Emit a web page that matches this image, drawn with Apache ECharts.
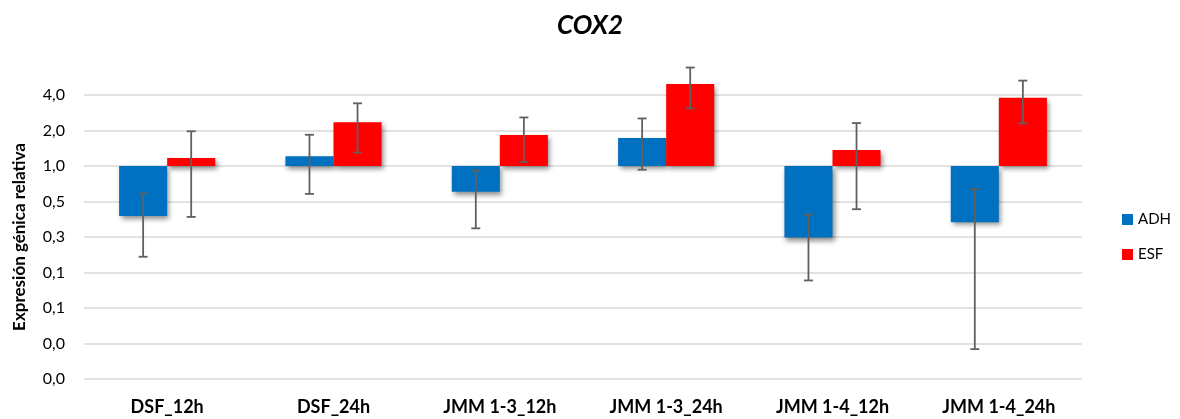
<!DOCTYPE html>
<html>
<head>
<meta charset="utf-8">
<title>COX2</title>
<script src="https://cdn.jsdelivr.net/npm/echarts@6/dist/echarts.min.js"></script>
<style>
  html, body { margin: 0; padding: 0; background: #ffffff; }
  #chart { width: 1180px; height: 419px; }
</style>
</head>
<body>
<div id="chart"></div>
<script>
// Relative gene expression (fold change, log2 axis) with standard deviations
const categories = ['DSF_12h', 'DSF_24h', 'JMM 1-3_12h', 'JMM 1-3_24h', 'JMM 1-4_12h', 'JMM 1-4_24h'];
const adhMean = [0.377, 1.21, 0.606, 1.73, 0.247, 0.333];
const adhSD   = [0.207, 0.63, 0.31,  0.80, 0.140, 0.305];
const esfMean = [1.17, 2.35, 1.83, 4.96, 1.37, 3.80];
const esfSD   = [0.80, 1.05, 0.75, 1.88, 0.94, 1.50];
const yTickLabels = ['0,0', '0,0', '0,1', '0,1', '0,3', '0,5', '1,0', '2,0', '4,0'];

const FONT = 'Lato, "Open Sans", sans-serif';
const BAR_FRACTION = 0.289;
const ADH_COLOR = '#0070C0';
const ESF_COLOR = '#FF0000';

// Error bar drawn at the centre of one of the two side-by-side bars
function errorBarRenderer(side) {
  return function (params, api) {
    const idx = api.value(0);
    const mean = api.value(1);
    const sd = api.value(2);
    const band = api.size([1, 0])[0];
    const dx = side * band * BAR_FRACTION / 2;
    const hi = api.coord([idx, mean + sd]);
    const lo = api.coord([idx, Math.max(mean - sd, 1e-4)]);
    const x = hi[0] + dx;
    const cap = 4.5;
    const style = { stroke: '#606060', lineWidth: 1.8 };
    return {
      type: 'group',
      children: [
        { type: 'line', shape: { x1: x, y1: hi[1], x2: x, y2: lo[1] }, style: style },
        { type: 'line', shape: { x1: x - cap, y1: hi[1], x2: x + cap, y2: hi[1] }, style: style },
        { type: 'line', shape: { x1: x - cap, y1: lo[1], x2: x + cap, y2: lo[1] }, style: style }
      ]
    };
  };
}

const barShadow = {
  shadowColor: 'rgba(0,0,0,0.45)',
  shadowBlur: 5,
  shadowOffsetX: 2,
  shadowOffsetY: 3
};

const chart = echarts.init(document.getElementById('chart'));
chart.setOption({
  backgroundColor: '#ffffff',
  animation: false,
  title: {
    text: 'COX2',
    left: 'center',
    top: 8,
    textStyle: { fontFamily: FONT, fontSize: 26, fontWeight: 'bold', fontStyle: 'italic', color: '#000000' }
  },
  legend: {
    orient: 'vertical',
    left: 1117,
    top: 207,
    itemWidth: 11,
    itemHeight: 11,
    itemGap: 20,
    icon: 'rect',
    data: ['ADH', 'ESF'],
    textStyle: { fontFamily: FONT, fontSize: 15, color: '#000000' }
  },
  grid: { left: 84, right: 98, top: 95, bottom: 40, containLabel: false },
  xAxis: {
    type: 'category',
    data: categories,
    axisLine: { show: false },
    axisTick: { show: false },
    axisLabel: { margin: 19, fontFamily: FONT, fontSize: 18, fontWeight: 'bold', color: '#000000' }
  },
  yAxis: {
    type: 'log',
    logBase: 2,
    min: 1 / 64,
    max: 4,
    interval: 1,
    splitNumber: 8,
    name: 'Expresión génica relativa',
    nameLocation: 'middle',
    nameGap: 56,
    nameTextStyle: { fontFamily: FONT, fontSize: 17, fontWeight: 'bold', color: '#000000' },
    axisLine: { show: false },
    axisTick: { show: false },
    splitLine: { lineStyle: { color: '#d9d9d9', width: 1.5 } },
    axisLabel: {
      margin: 19,
      fontFamily: FONT,
      fontSize: 16,
      color: '#000000',
      formatter: function (v) {
        const i = Math.round(Math.log2(v)) + 6;
        return yTickLabels[i] !== undefined ? yTickLabels[i] : '';
      }
    }
  },
  series: [
    {
      name: 'ADH',
      type: 'bar',
      data: adhMean,
      clip: false,
      barWidth: (BAR_FRACTION * 100) + '%',
      barGap: '0%',
      itemStyle: Object.assign({ color: ADH_COLOR }, barShadow)
    },
    {
      name: 'ESF',
      type: 'bar',
      data: esfMean,
      clip: false,
      barWidth: (BAR_FRACTION * 100) + '%',
      barGap: '0%',
      itemStyle: Object.assign({ color: ESF_COLOR }, barShadow)
    },
    {
      type: 'custom',
      name: 'ADH error',
      renderItem: errorBarRenderer(-1),
      data: adhMean.map((m, i) => [i, m, adhSD[i]]),
      encode: { x: 0, y: 1 },
      z: 5,
      silent: true
    },
    {
      type: 'custom',
      name: 'ESF error',
      renderItem: errorBarRenderer(1),
      data: esfMean.map((m, i) => [i, m, esfSD[i]]),
      encode: { x: 0, y: 1 },
      z: 5,
      silent: true
    }
  ]
});
</script>
</body>
</html>
